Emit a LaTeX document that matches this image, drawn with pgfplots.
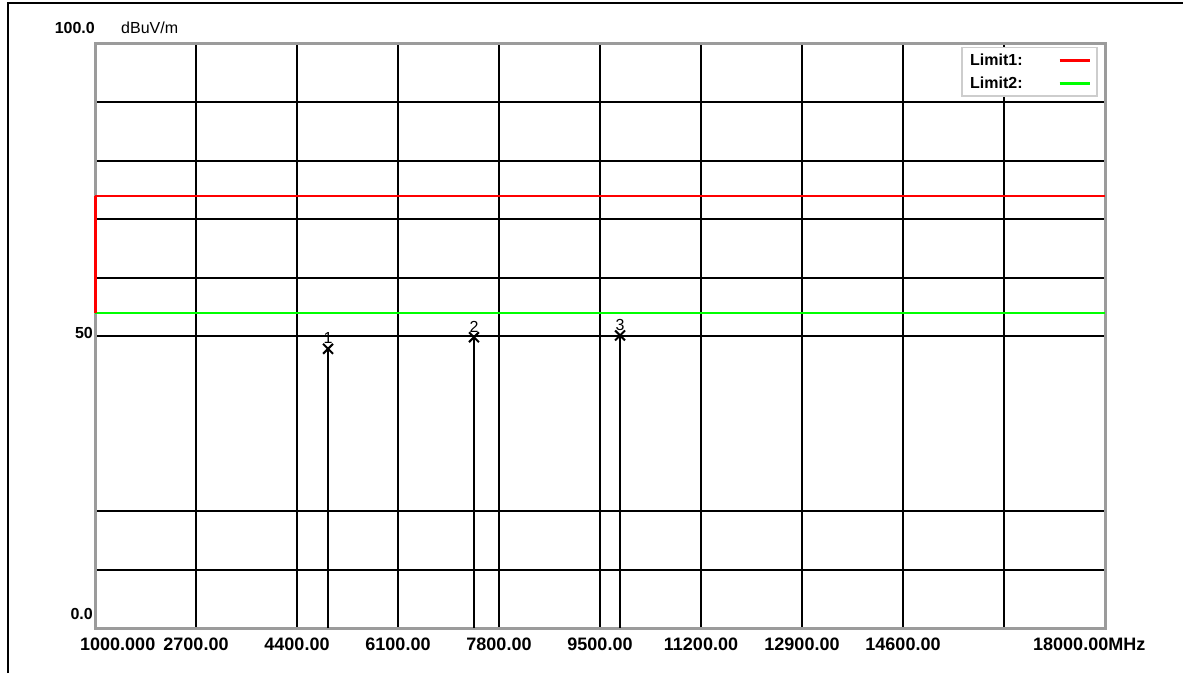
\documentclass[border=0pt]{standalone}
\usepackage{pgfplots}
\pgfplotsset{compat=1.18}
\usepackage{fontspec}
\setmainfont{Liberation Sans}
\definecolor{framegray}{RGB}{155,155,155}
\definecolor{legendgray}{RGB}{205,205,205}
\newcommand{\lbl}{\fontsize{16}{16}\selectfont}
\newcommand{\tlbl}{\fontsize{18}{18}\selectfont}
\begin{document}
\begin{tikzpicture}
\useasboundingbox (0pt,0pt) rectangle (1183pt,673pt);
\draw[black, line width=2pt] (8pt,0pt) -- (8pt,670pt) -- (1183pt,670pt);
\begin{axis}[
  at={(95pt,45pt)}, anchor=south west,
  scale only axis, width=1010pt, height=584pt,
  xmin=1000, xmax=18000, ymin=0, ymax=100,
  clip=false,
  axis line style={draw=framegray, line width=3pt},
  scaled x ticks=false,
  xtick={2700,4400,6100,7800,9500,11200,12900,14600,16300},
  xticklabels={2700.00,4400.00,6100.00,7800.00,9500.00,11200.00,12900.00,14600.00,{}},
  ytick={10,20,50,60,70,80,90}, yticklabels={},
  major tick length=0pt,
  grid=major, major grid style={black, line width=1.9pt},
  xticklabel style={font=\tlbl\bfseries, inner sep=0pt, anchor=center, yshift=-16.5pt},
  legend style={at={(0.993,0.995)}, anchor=north east, draw=legendgray, line width=1.5pt,
    font=\lbl\bfseries, row sep=6pt, inner xsep=6pt, inner ysep=4pt},
  legend cell align=left,
  legend plot pos=right,
  legend image code/.code={\draw[#1, line width=3pt] (0pt,0pt) -- (30pt,0pt);},
]
\addplot[red, line width=2pt] coordinates {(1000,74) (18000,74)};
\addlegendentry{\makebox[86pt][l]{Limit1:}}
\addplot[green, line width=2pt] coordinates {(1000,54) (18000,54)};
\addlegendentry{\makebox[86pt][l]{Limit2:}}
\addplot[red, line width=3pt, forget plot] coordinates {(1000,54) (1000,74)};
\addplot[black, line width=1.6pt, ycomb, mark=x, mark size=7pt,
  mark options={line width=2pt},
  nodes near coords, point meta=explicit symbolic,
  nodes near coords style={font=\lbl, anchor=south, inner sep=0pt, yshift=4pt, black},
  forget plot]
  coordinates {(4922,47.8) [1] (7379,49.8) [2] (9837,50.1) [3]};
\end{axis}
\node[anchor=east, inner sep=0pt, font=\lbl\bfseries] at (95pt,645.5pt) {100.0};
\node[anchor=west, inner sep=0pt, font=\lbl] at (121pt,645.5pt) {dBuV/m};
\node[anchor=east, inner sep=0pt, font=\lbl\bfseries] at (93pt,340pt) {50};
\node[anchor=east, inner sep=0pt, font=\lbl\bfseries] at (93pt,59.5pt) {0.0};
\node[anchor=west, inner sep=0pt, font=\tlbl\bfseries] at (80pt,28.5pt) {1000.000};
\node[anchor=west, inner sep=0pt, font=\tlbl\bfseries] at (1033pt,28.5pt) {18000.00MHz};
\end{tikzpicture}
\end{document}
